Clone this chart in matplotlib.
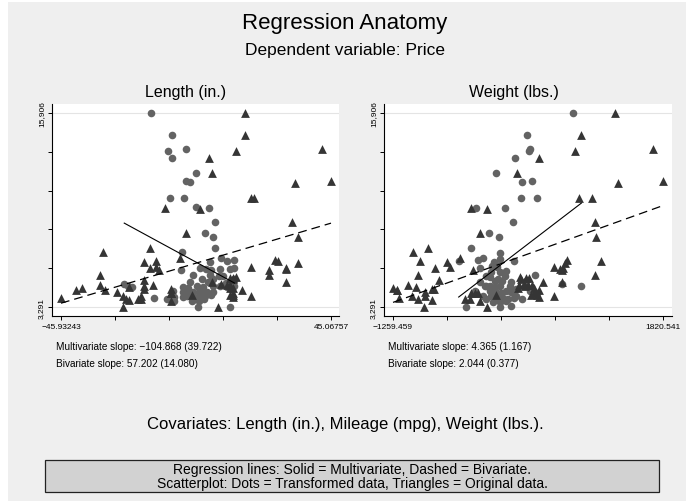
import matplotlib
matplotlib.use("Agg")
import matplotlib.pyplot as plt
from matplotlib.patches import Rectangle
import numpy as np

plt.rcParams['font.family'] = ['Liberation Sans', 'DejaVu Sans']

# price (y) shared by both panels
price = [4099, 4749, 3799, 4816, 7827, 5788, 4453, 5189, 10372, 4082,
         11385, 14500, 15906, 3299, 5705, 4504, 5104, 3667, 3955, 3984,
         4010, 5886, 6342, 4389, 4187, 11497, 13594, 13466, 3829, 5379,
         6165, 4516, 6303, 3291, 8814, 5172, 4733, 4890, 4181, 4195,
         10371, 4647, 4425, 4482, 6486, 4060, 5798, 4934, 5222, 4723,
         4424, 4172, 9690, 6295, 9735, 6229, 4589, 5079, 8129, 4296,
         5799, 4499, 3995, 12990, 3895, 3798, 5899, 3748, 5719, 7140,
         5397, 4697, 6850, 11995]

# original data, centred (triangles)
length_c = [-1.93, -14.93, -19.93, 8.07, 34.07, 30.07, -17.93, 12.07, 19.07, 12.07,
            33.07, 16.07, 16.07, -24.93, 24.07, 12.07, 12.07, -8.93, 12.07, -24.93,
            18.07, 18.07, 26.07, -40.93, -8.93, 45.07, 42.07, 13.07, -18.93, 24.07,
            34.07, 11.07, 27.07, 7.07, 32.07, 11.07, 10.07, 30.07, 12.07, -8.93,
            18.07, -17.93, -30.93, -8.93, -5.93, 11.07, 30.07, 5.07, 13.07, 11.07,
            15.07, -8.93, 1.07, -13.93, -10.93, -17.93, -22.93, -17.93, -3.93, -26.93,
            -15.93, -38.93, -18.93, 4.07, -45.93, -23.93, -13.93, -22.93, -12.93, -15.93,
            -32.93, -32.93, -31.93, 5.07]
weight_c = [-89, 331, -379, 231, 1061, 651, -789, 261, 861, 381,
            1311, 881, 1271, -909, 671, 161, 201, -269, 411, -899,
            581, 581, 721, -1219, -369, 1821, 1701, 811, -439, 1041,
            701, 351, 1111, -189, 1041, 291, 281, 671, 351, -289,
            1011, 241, -1219, -819, -499, 311, 681, 451, 191, 181,
            401, -329, -189, -949, -369, -649, -999, -739, -269, -889,
            -779, -1259, -1039, 401, -1189, -969, -609, -819, -349, -859,
            -979, -1089, -1029, 151]

# transformed data (dots)
len_dot_x = [-15.75, -8.57, -9.80, -3.74, -8.57, -0.26, -3.74, -2.29, -9.13, -4.53,
             -0.38, 4.11, 5.91, 2.65, 5.23, 6.02, -5.20, 4.22, 8.04, 10.17,
             12.41, -5.43, -1.50, 0.97, 2.99, 4.56, 7.70, 12.53, 7.37, -2.40,
             1.64, 3.55, 5.46, 9.72, 12.41, -21.92, -24.61, -23.49, -4.86, -0.15,
             2.09, 5.46, 7.70, 9.95, -8.12, -4.86, -2.96, -1.27, 0.75, 3.21,
             5.46, -8.90, -10.25, -7.78, -4.86, -1.84, 0.41, 2.76, 4.56, -14.51,
             -1.61, 0.52, 2.43, 0.41, 11.18, -7.89, 12.53, -3.52, 1.53, -0.71,
             11.07, -2.96, 4.34, 8.83]
len_dot_y = [15906, 14497, 13457, 13587, 12980, 12004, 11506, 11398, 10357, 10357,
             9772, 9707, 8797, 8125, 7843, 7149, 6846, 6196, 6456, 6282,
             6326, 5719, 5394, 5805, 5762, 5719, 5762, 5805, 5329, 4938,
             5112, 4895, 5112, 4830, 5112, 4613, 4787, 4678, 4613, 4678,
             4570, 4678, 4678, 4570, 4353, 4245, 4245, 4288, 4245, 4288,
             4245, 3963, 3811, 3920, 3920, 4028, 3920, 3985, 4071, 3876,
             3681, 3681, 3811, 3291, 3299, 3703, 4678, 4028, 4136, 3811,
             5762, 4505, 5372, 5329]
wt_dot_x = [794, 265, 288, 300, 136, -81, 208, 330, 205, 380,
            -309, 22, 106, -168, -50, -370, -35, -510, -294, -233,
            -107, 125, -263, -134, -81, 360, 889, 669, -271, -195,
            -138, -43, -12, 90, -214, -157, -100, -43, 33, -157,
            -88, -24, 90, 148, -138, -69, -5, 52, 121, 216,
            -43, 26, -423, -35, 383, 262, -62, 71, -233, -195,
            -100, 14, -157, -73, 33, 148, 243, 300, -119, 90,
            300, -328, -43, -195]
wt_dot_y = [15906, 14497, 13457, 13587, 12980, 12004, 11398, 11506, 10357, 10357,
            9707, 9707, 8797, 8125, 7843, 7149, 6802, 6282, 6326, 6477,
            6196, 6282, 5805, 5979, 6044, 5394, 4635, 4787, 4895, 5329,
            5545, 5545, 5003, 4938, 4678, 4678, 4570, 4678, 4353, 4353,
            4245, 4201, 4245, 4028, 4028, 3920, 3855, 3811, 3855, 3811,
            3595, 3703, 3299, 3291, 4180, 5003, 5112, 4678, 4028, 3811,
            5003, 5329, 5220, 5871, 5654, 4462, 4678, 4462, 3595, 3378,
            4353, 4353, 6413, 4678]

price_mean = 6165.26
len_slopes = (-104.868, 57.202)   # multivariate, bivariate
wt_slopes = (4.365, 2.044)

y_ticks = [3291, 5814, 8337, 10860, 13383, 15906]
len_ticks = [-45.93243, -27.73243, -9.53243, 8.66757, 26.86757, 45.06757]
wt_ticks = [-1259.459, -643.459, -27.459, 588.541, 1204.541, 1820.541]
len_tick_labels = ['\u221245.93243', '', '', '', '', '45.06757']
wt_tick_labels = ['\u22121259.459', '', '', '', '', '1820.541']
y_tick_labels = ['3,291', '', '', '', '', '15,906']

W, H = 686, 502
fig = plt.figure(figsize=(W / 100, H / 100), dpi=100)
fig.patch.set_facecolor('white')
fig.patches.append(Rectangle((8 / W, 0), 1 - 8 / W, 1 - 3 / H, transform=fig.transFigure,
                             facecolor='#efefef', edgecolor='none', zorder=-10))


def px(x, y):
    return x / W, 1 - y / H


def panel(rect, ox, oy, dx, dy, slopes, xticks, xlabels, xlim, title, title_x,
          notes, note_x):
    ax = fig.add_axes(rect)
    ax.set_facecolor('white')
    for s in ['top', 'right']:
        ax.spines[s].set_visible(False)
    for s in ['left', 'bottom']:
        ax.spines[s].set_linewidth(0.8)
    ax.axhline(y_ticks[0], color='#e4e4e4', lw=0.8, zorder=0)
    ax.axhline(y_ticks[-1], color='#e4e4e4', lw=0.8, zorder=0)

    ax.scatter(dx, dy, s=30, marker='o', color='#636363', linewidths=0, zorder=2)
    ax.scatter(ox, oy, s=40, marker='^', color='#353535', linewidths=0, zorder=3)

    # regression lines
    xs = np.array([min(dx), max(dx)])
    ax.plot(xs, price_mean + slopes[0] * xs, color='black', lw=0.8, zorder=4)
    xb = np.array([min(ox), max(ox)])
    ax.plot(xb, price_mean + slopes[1] * xb, color='black', lw=0.9,
            dashes=(7, 4), zorder=4)

    ax.set_xlim(xlim)
    ax.set_ylim(2706, 16491)
    ax.set_xticks(xticks)
    ax.set_xticklabels(xlabels)
    ax.set_yticks(y_ticks)
    ax.set_yticklabels(y_tick_labels, rotation=90, va='center')
    ax.tick_params(direction='out', length=3, width=0.7, labelsize=6, pad=2)

    fig.text(*px(title_x, 92), title, ha='center', va='center', fontsize=11.5)
    fig.text(*px(note_x, 347), notes[0], ha='left', va='center', fontsize=7.2)
    fig.text(*px(note_x, 364), notes[1], ha='left', va='center', fontsize=7.2)
    return ax


panel([52 / W, 1 - 317 / H, 287 / W, 212 / H], length_c, price, len_dot_x, len_dot_y,
      len_slopes, len_ticks, len_tick_labels, (-48.96, 47.77), 'Length (in.)', 186,
      ['Multivariate slope: \u2212104.868 (39.722)', 'Bivariate slope: 57.202 (14.080)'], 56)
panel([384 / W, 1 - 317 / H, 288 / W, 212 / H], weight_c, price, wt_dot_x, wt_dot_y,
      wt_slopes, wt_ticks, wt_tick_labels, (-1362.1, 1923.2), 'Weight (lbs.)', 514,
      ['Multivariate slope: 4.365 (1.167)', 'Bivariate slope: 2.044 (0.377)'], 388)

fig.text(*px(345, 24), 'Regression Anatomy', ha='center', va='center', fontsize=16)
fig.text(*px(345, 51), 'Dependent variable: Price', ha='center', va='center', fontsize=12.5)
fig.text(*px(345, 425), 'Covariates: Length (in.), Mileage (mpg), Weight (lbs.).',
         ha='center', va='center', fontsize=12)

fig.patches.append(Rectangle(px(45, 493), 614 / W, 32 / H, transform=fig.transFigure,
                             facecolor='#d2d2d2', edgecolor='#222222', lw=0.9))
fig.text(*px(352, 470), 'Regression lines: Solid = Multivariate, Dashed = Bivariate.',
         ha='center', va='center', fontsize=10)
fig.text(*px(352, 484), 'Scatterplot: Dots = Transformed data, Triangles = Original data.',
         ha='center', va='center', fontsize=10)

fig.savefig('out.png', dpi=100, facecolor=fig.get_facecolor())
